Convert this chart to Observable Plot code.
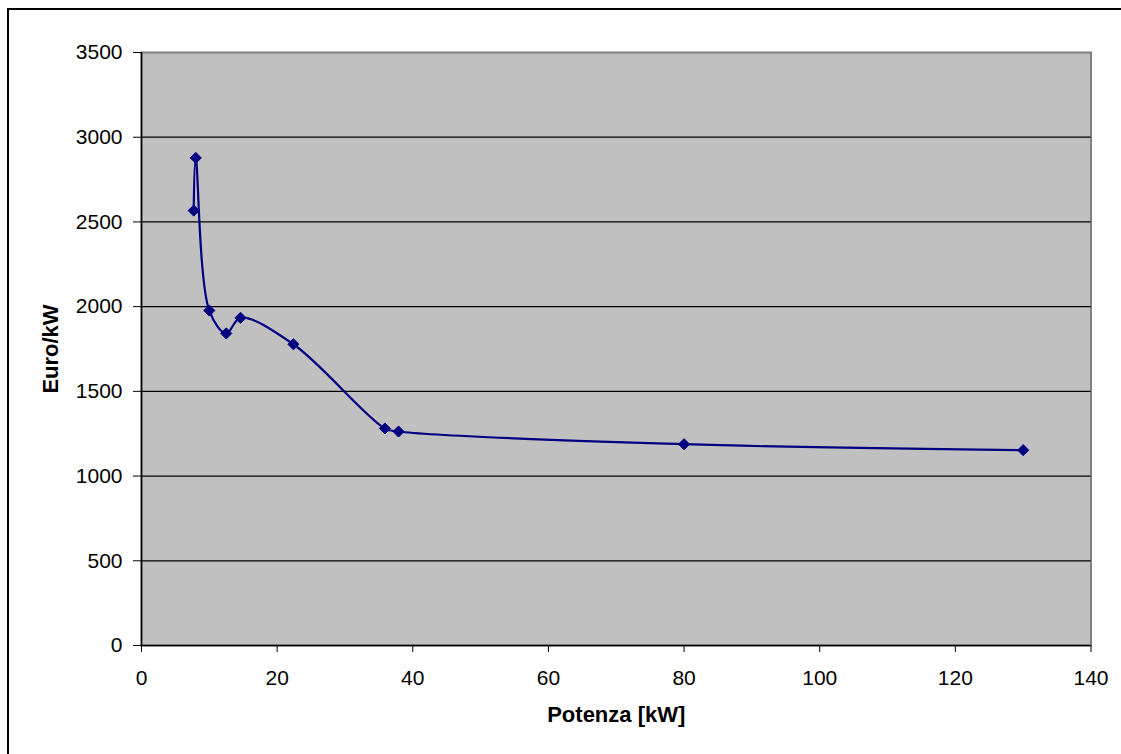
<!DOCTYPE html>
<html>
<head>
<meta charset="utf-8">
<script src="https://cdn.jsdelivr.net/npm/d3@7"></script>
<script src="https://cdn.jsdelivr.net/npm/@observablehq/plot@0.6"></script>
<style>
  html, body { margin: 0; padding: 0; background: #fff; }
  #wrap { position: relative; width: 1121px; height: 754px; overflow: hidden; }
  #border { position: absolute; left: 7px; top: 8px; width: 2000px; height: 2000px;
            border-top: 2px solid #000; border-left: 2px solid #000; pointer-events: none; }
  #chart { position: absolute; left: 0; top: 0; }
</style>
</head>
<body>
<div id="wrap"><div id="border"></div><div id="chart"></div></div>
<script>
const potenza = [7.7, 8, 10, 12.5, 14.6, 22.4, 35.9, 37.9, 80, 130];
const euroPerKW = [2567, 2878, 1977, 1842, 1934, 1778, 1281, 1263, 1188, 1153];
const xTicks = [0, 20, 40, 60, 80, 100, 120, 140];
const yTicks = [0, 500, 1000, 1500, 2000, 2500, 3000, 3500];
const gridY = [500, 1000, 1500, 2000, 2500, 3000];
const xLabel = "Potenza [kW]";
const yLabel = "Euro/kW";

const data = potenza.map((x, i) => ({x, y: euroPerKW[i]}));
const navy = "#000080";

const chart = Plot.plot({
  width: 1121,
  height: 754,
  marginLeft: 141,
  marginRight: 30.5,
  marginTop: 52,
  marginBottom: 109,
  style: {fontFamily: "Liberation Sans, Arial, sans-serif", fontSize: "21px", color: "#000", background: "transparent"},
  x: {domain: [0, 140], ticks: xTicks},
  y: {domain: [0, 3500], ticks: yTicks},
  marks: [
    Plot.frame({fill: "#c0c0c0", stroke: "#808080", strokeWidth: 2}),
    Plot.ruleY(gridY, {stroke: "#000", strokeWidth: 1.2}),
    Plot.ruleX([0], {stroke: "#000", strokeWidth: 1.5}),
    Plot.ruleY([0], {stroke: "#000", strokeWidth: 1.5}),
    Plot.axisX({ticks: xTicks, tickSize: 7, tickPadding: 18, label: null, fontSize: 21, stroke: "#000", tickFormat: d => String(d)}),
    Plot.axisY({ticks: yTicks, tickSize: 8, tickPadding: 11, label: null, fontSize: 21, stroke: "#000", tickFormat: d => String(d)}),
    Plot.line(data, {x: "x", y: "y", stroke: navy, strokeWidth: 2.2, curve: "catmull-rom"}),
    Plot.dot(data, {x: "x", y: "y", symbol: "diamond2", r: 5, fill: navy, stroke: navy, strokeWidth: 1}),
    Plot.text([xLabel], {frameAnchor: "bottom", dy: 69, text: d => d, fontSize: 22, fontWeight: "bold", fill: "#000", lineAnchor: "middle", textAnchor: "middle"}),
    Plot.text([yLabel], {frameAnchor: "left", dx: -91, rotate: -90, text: d => d, fontSize: 22, fontWeight: "bold", fill: "#000", lineAnchor: "middle", textAnchor: "middle"})
  ]
});
document.getElementById("chart").appendChild(chart);
</script>
</body>
</html>
